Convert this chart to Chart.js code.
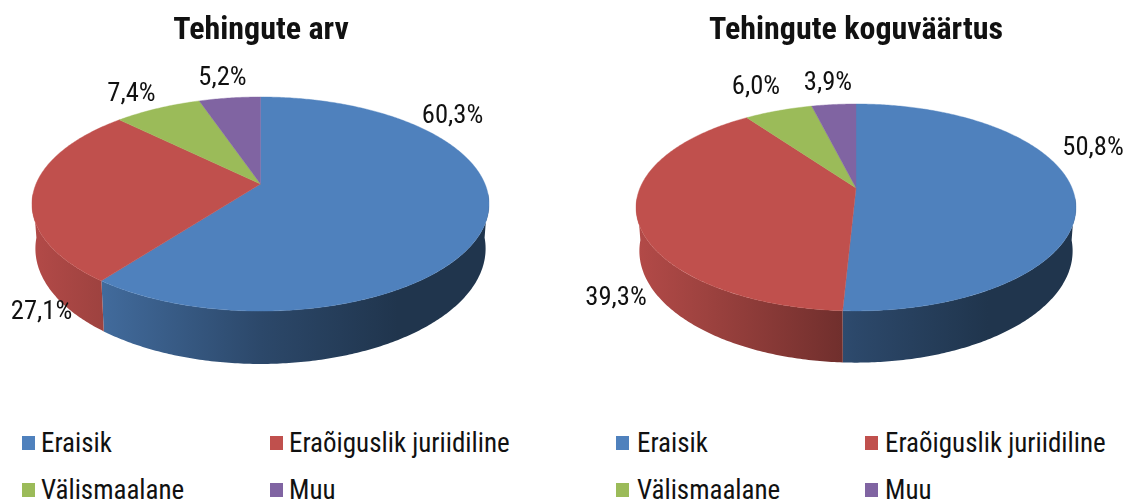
<!DOCTYPE html>
<html><head><meta charset="utf-8">
<style>
html,body{margin:0;padding:0;background:#fff;width:1126px;height:499px;overflow:hidden}
body{filter:blur(.4px)}
canvas{position:absolute;top:0;left:0}
.sw{position:absolute;width:13px;height:14px}
.lt{position:absolute;font:400 27px Roboto,sans-serif;font-stretch:condensed;color:#111;white-space:nowrap;line-height:28px}
</style>
<script src="https://cdn.jsdelivr.net/npm/chart.js@4"></script>
</head><body>
<canvas id="a" width="522" height="420"></canvas>
<canvas id="b" width="552" height="420" style="left:580px"></canvas>
<script>
const categories=['Eraisik','Eraõiguslik juriidiline','Välismaalane','Muu'];
const countShares=[60.3,27.1,7.4,5.2];
const valueShares=[50.8,39.3,6.0,3.9];
const colors=['#4F81BD','#C0504D','#9BBB59','#8064A2'];
const titles=['Tehingute arv','Tehingute koguväärtus'];

const FONT='Roboto, sans-serif';
function shade(hex,f){const n=parseInt(hex.slice(1),16);
  return `rgb(${Math.round((n>>16)*f)},${Math.round(((n>>8)&255)*f)},${Math.round((n&255)*f)})`;}
const shadeStops=[[0,.93],[.16,.82],[.5,.56],[.8,.41],[1,.41]];

const pie3d={id:'pie3d',
  beforeDatasetDraw(chart,args,o){
    const ctx=chart.ctx,meta=chart.getDatasetMeta(0),ds=chart.data.datasets[0];
    const P=(t)=>{const u=Math.sin(t),v=-Math.cos(t),w=1-o.k*v;
      return {x:o.cx+o.A*u/w,y:o.cy+o.a*v/w,bx:o.cx+o.A*.985*u/w,by:o.cy+o.a*v/w+o.d/w};};
    const W=o.A*1.018;
    const segs=meta.data.map((el,i)=>({t0:el.startAngle+Math.PI/2,t1:el.endAngle+Math.PI/2,c:ds.backgroundColor[i]}));
    const lo=Math.PI*.53,hi=Math.PI*1.47;
    segs.forEach(s=>{
      const a=Math.max(s.t0,lo),b=Math.min(s.t1,hi);
      if(b<=a)return;
      const g=ctx.createLinearGradient(o.cx-W,0,o.cx+W,0);
      shadeStops.forEach(([p,f])=>g.addColorStop(p,shade(s.c,f)));
      const n=Math.max(8,Math.ceil((b-a)*90));
      ctx.beginPath();
      for(let i=0;i<=n;i++){const q=P(a+(b-a)*i/n);i?ctx.lineTo(q.x,q.y):ctx.moveTo(q.x,q.y);}
      for(let i=n;i>=0;i--){const q=P(a+(b-a)*i/n);ctx.lineTo(q.bx,q.by);}
      ctx.closePath();ctx.fillStyle=g;ctx.fill();
    });
    segs.forEach(s=>{
      const n=Math.max(8,Math.ceil((s.t1-s.t0)*90));
      ctx.beginPath();ctx.moveTo(o.cx,o.cy);
      for(let i=0;i<=n;i++){const q=P(s.t0+(s.t1-s.t0)*i/n);ctx.lineTo(q.x,q.y);}
      ctx.closePath();ctx.fillStyle=s.c;ctx.fill();
      ctx.strokeStyle=s.c;ctx.lineWidth=.4;ctx.stroke();
    });
    return false;
  },
  afterDatasetsDraw(chart,args,o){
    const ctx=chart.ctx,vals=chart.data.datasets[0].data;
    ctx.save();
    ctx.font=`condensed 400 26.6px ${FONT}`;ctx.fillStyle='#111';ctx.textAlign='center';ctx.textBaseline='middle';
    vals.forEach((v,i)=>{
      ctx.fillText(v.toFixed(1).replace('.',',')+'%',o.cx+o.labels[i][0],o.cy+o.labels[i][1]+1.5);
    });
    ctx.restore();
  }
};

function make(id,vals,title,geo){
  return new Chart(document.getElementById(id),{type:'pie',
    data:{labels:categories,datasets:[{data:vals,backgroundColor:colors,borderWidth:0}]},
    options:{responsive:false,animation:false,events:[],
      plugins:{legend:{display:false},tooltip:{enabled:false},
        title:{display:true,text:title,color:'#111',font:{family:FONT,size:32,weight:'condensed 700'},padding:{top:12,bottom:10}},
        pie3d:geo}},
    plugins:[pie3d]});
}
make('a',countShares,titles[0],{cx:260.5,cy:184,A:224.5,a:103.3,k:.187,d:43,
  labels:[[192,-69],[-219,127],[-129,-91],[-38,-107]]});
make('b',valueShares,titles[1],{cx:276,cy:188,A:216,a:99.8,k:.188,d:42,
  labels:[[237,-41],[-240,109],[-100,-102],[-28,-106]]});

[[[22,42],[270,290]],[[616,638],[865,886]]].forEach(cols=>{
  categories.forEach((c,i)=>{
    const [x,tx]=cols[i%2],y=i<2?436:483;
    const s=document.createElement('div');s.className='sw';s.style.cssText=`left:${x}px;top:${y}px;background:${colors[i]}`;
    document.body.appendChild(s);
    const t=document.createElement('div');t.className='lt';t.textContent=c;t.style.left=(tx-1)+'px';t.style.top=(y-7)+'px';
    document.body.appendChild(t);
  });
});
</script>
</body></html>
